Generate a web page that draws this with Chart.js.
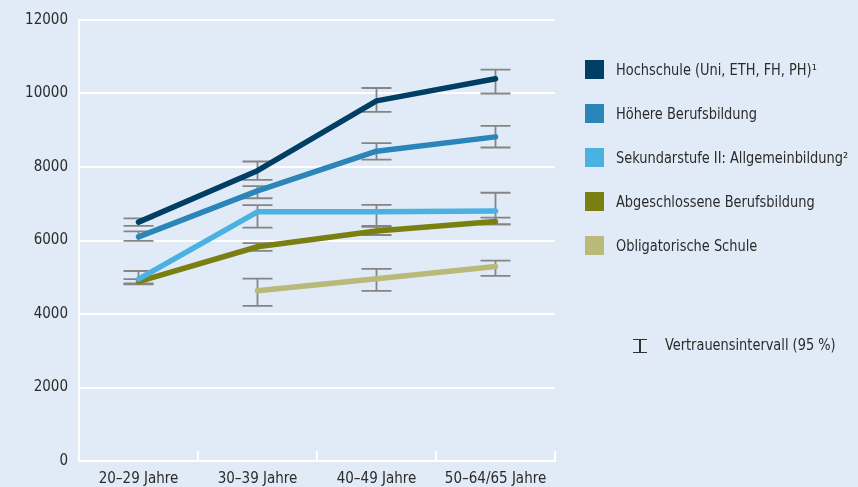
<!DOCTYPE html>
<html>
<head>
<meta charset="utf-8">
<script src="https://cdn.jsdelivr.net/npm/chart.js@4"></script>
<style>
  html, body { margin: 0; padding: 0; background: #e1ebf7; }
  #wrap { position: relative; width: 858px; height: 487px; }
  #legend { position: absolute; left: 585px; top: 60px; font-family: "DejaVu Sans Condensed", "Liberation Sans Narrow", sans-serif; font-size: 16px; color: #2b2b2b; }
  .row { position: absolute; left: 0; height: 19px; white-space: nowrap; }
  .box { position: absolute; left: 0; top: 0; width: 19px; height: 19px; }
  .lbl { position: absolute; left: 31px; top: 0; line-height: 19px; transform: scaleX(0.9); transform-origin: left center; }
  #ci { position: absolute; left: 633px; top: 337px; font-family: "DejaVu Sans Condensed", "Liberation Sans Narrow", sans-serif; font-size: 16px; color: #2b2b2b; white-space: nowrap; }
  .sym { position: absolute; left: 0; top: 2px; width: 14px; height: 12px; border-top: 1.5px solid #333; border-bottom: 1.5px solid #333; }
  .sym:after { content: ""; position: absolute; left: 6px; top: 0; width: 1.5px; height: 12px; background: #333; }
  .citext { position: absolute; left: 32px; top: 0; line-height: 16px; transform: scaleX(0.9); transform-origin: left center; }
</style>
</head>
<body>
<div id="wrap">
  <canvas id="lineChart" width="858" height="487"></canvas>
  <div id="legend"></div>
  <div id="ci"><div class="sym"></div><div class="citext">Vertrauensintervall (95 %)</div></div>
</div>
<script>
var labels = ['20–29 Jahre', '30–39 Jahre', '40–49 Jahre', '50–64/65 Jahre'];
var yTicks = [0, 2000, 4000, 6000, 8000, 10000, 12000];

var seriesNames = [
  'Hochschule (Uni, ETH, FH, PH)¹',
  'Höhere Berufsbildung',
  'Sekundarstufe II: Allgemeinbildung²',
  'Abgeschlossene Berufsbildung',
  'Obligatorische Schule'
];
var seriesColors = ['#003e63', '#2a86b9', '#4ab1e0', '#7a7f12', '#b9b97a'];

var hochschule = [6500, 7900, 9800, 10400];
var hochschuleLow = [6400, 7650, 9500, 10000];
var hochschuleHigh = [6600, 8150, 10150, 10650];

var hoehere = [6100, 7350, 8430, 8820];
var hoehereLow = [5990, 7150, 8200, 8530];
var hoehereHigh = [6250, 7480, 8650, 9120];

var sekundar = [4950, 6780, 6780, 6800];
var sekundarLow = [4830, 6350, 6400, 6440];
var sekundarHigh = [5170, 6960, 6970, 7300];

var berufsbildung = [4880, 5830, 6260, 6520];
var berufsbildungLow = [4810, 5720, 6150, 6440];
var berufsbildungHigh = [4950, 5930, 6370, 6620];

var obligatorisch = [null, 4630, 4960, 5290];
var obligatorischLow = [null, 4220, 4630, 5040];
var obligatorischHigh = [null, 4960, 5230, 5450];

var values = [hochschule, hoehere, sekundar, berufsbildung, obligatorisch];
var lows = [hochschuleLow, hoehereLow, sekundarLow, berufsbildungLow, obligatorischLow];
var highs = [hochschuleHigh, hoehereHigh, sekundarHigh, berufsbildungHigh, obligatorischHigh];

var font = '"DejaVu Sans Condensed", "Liberation Sans Narrow", sans-serif';

// legend
var legend = document.getElementById('legend');
for (var i = 0; i < seriesNames.length; i++) {
  var row = document.createElement('div');
  row.className = 'row';
  row.style.top = (i * 44) + 'px';
  row.innerHTML = '<div class="box" style="background:' + seriesColors[i] + '"></div><div class="lbl">' + seriesNames[i] + '</div>';
  legend.appendChild(row);
}

var datasets = [];
for (var i = 0; i < values.length; i++) {
  datasets.push({
    label: seriesNames[i],
    data: values[i],
    borderColor: seriesColors[i],
    backgroundColor: seriesColors[i],
    borderWidth: 5.5,
    borderCapStyle: 'round',
    borderJoinStyle: 'round',
    pointRadius: 0,
    tension: 0,
    spanGaps: false
  });
}

// error bars, drawn under the lines
var errorBars = {
  id: 'errorBars',
  beforeDatasetsDraw: function (chart) {
    var ctx = chart.ctx;
    var x = chart.scales.x, y = chart.scales.y;
    ctx.save();
    ctx.strokeStyle = '#858585';
    ctx.lineWidth = 1.8;
    for (var s = 0; s < lows.length; s++) {
      for (var i = 0; i < labels.length; i++) {
        if (lows[s][i] == null) continue;
        var px = x.getPixelForValue(i);
        var top = y.getPixelForValue(highs[s][i]);
        var bot = y.getPixelForValue(lows[s][i]);
        ctx.beginPath();
        ctx.moveTo(px, top); ctx.lineTo(px, bot);
        ctx.moveTo(px - 15, top); ctx.lineTo(px + 15, top);
        ctx.moveTo(px - 15, bot); ctx.lineTo(px + 15, bot);
        ctx.stroke();
      }
    }
    ctx.restore();
  },
  afterDraw: function (chart) {
    // small tick marks above the x axis at category boundaries
    var ctx = chart.ctx, a = chart.chartArea;
    var n = labels.length;
    ctx.save();
    ctx.strokeStyle = '#ffffff';
    ctx.lineWidth = 2;
    for (var i = 1; i <= n; i++) {
      var px = a.left + i * (a.right - a.left) / n;
      ctx.beginPath();
      ctx.moveTo(px, a.bottom);
      ctx.lineTo(px, a.bottom - 10);
      ctx.stroke();
    }
    ctx.restore();
  }
};

var ctx = document.getElementById('lineChart').getContext('2d');
var myLineChart = new Chart(ctx, {
  type: 'line',
  data: { labels: labels, datasets: datasets },
  plugins: [errorBars],
  options: {
    responsive: false,
    animation: false,
    layout: { padding: { top: 20, right: 303, left: 0, bottom: 0 } },
    plugins: { legend: { display: false }, tooltip: { enabled: false } },
    scales: {
      x: {
        offset: true,
        grid: { display: false },
        border: { color: '#ffffff', width: 2 },
        ticks: { color: '#2b2b2b', font: { family: font, size: 15 }, padding: 1, maxRotation: 0 },
        afterFit: function (scale) { scale.height = 26; }
      },
      y: {
        min: 0,
        max: 12000,
        afterBuildTicks: function (scale) {
          scale.ticks = yTicks.map(function (v) { return { value: v }; });
        },
        grid: { color: '#ffffff', lineWidth: 2, drawTicks: false },
        border: { color: '#ffffff', width: 2 },
        ticks: {
          color: '#2b2b2b',
          font: { family: font, size: 15 },
          padding: 11,
          callback: function (v) { return String(v); }
        },
        afterFit: function (scale) { scale.width = 79; }
      }
    }
  }
});
</script>
</body>
</html>
